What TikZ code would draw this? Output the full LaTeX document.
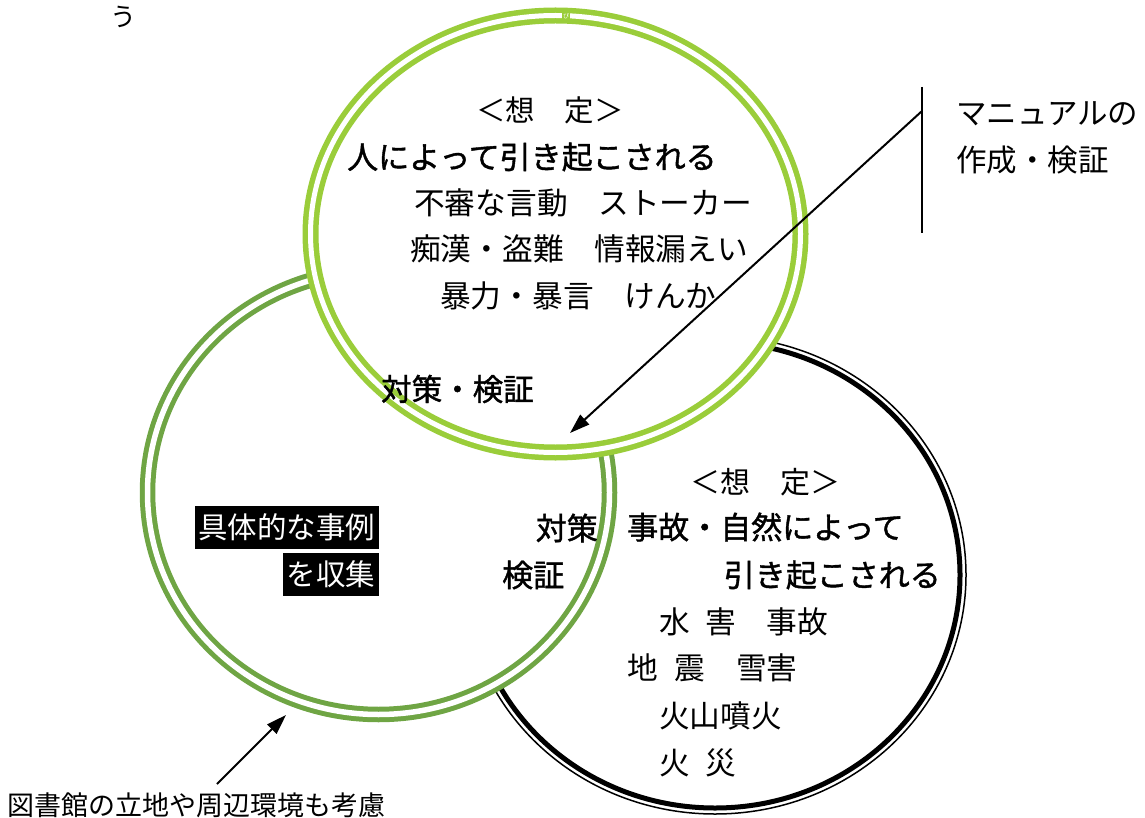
\documentclass[tikz,border=0pt]{standalone}
\usepackage{fontspec}
\newfontfamily\jp{Noto Sans CJK JP}
\newfontfamily\jpb[FakeBold=1.3]{Noto Sans CJK JP}
\usetikzlibrary{arrows.meta}
\definecolor{lgreen}{HTML}{9ACD3A}
\definecolor{dgreen}{HTML}{6FA544}
\begin{document}
\begin{tikzpicture}[x=1pt,y=-1pt,
  txt/.style={inner sep=0pt, anchor=west, font=\jp\fontsize{30.7}{34}\selectfont},
  btxt/.style={inner sep=0pt, anchor=west, font=\jpb\fontsize{31}{34}\selectfont},
  head/.style={inner sep=0pt, anchor=west, font=\jp\fontsize{29.5}{32}\selectfont},
  rimlight/.style={draw=lgreen, line width=5.5pt, double=white, double distance=5pt},
  rimdark/.style={draw=dgreen, line width=5pt, double=white, double distance=5.5pt},
  blkbox/.style={fill=black, text=white, inner xsep=3.5pt, inner ysep=0pt, minimum height=43pt, anchor=east, font=\jp\fontsize{29.5}{34}\selectfont},
  arr/.style={draw=black, line width=2pt, -{Triangle[length=20pt,width=13pt]}}
]
\useasboundingbox (0,0) rectangle (1145,818);

% black circle (bottom)
\fill[white] (715,575) ellipse [x radius=248, y radius=236];
\draw[black, line width=5pt] (715,575) ellipse [x radius=245, y radius=233];
\draw[black, line width=1.5pt] (715,575) ellipse [x radius=251, y radius=239];

% left green circle
\draw[rimdark, fill=white] (378.5,492.5) ellipse [x radius=231, y radius=222];

% top green ellipse
\draw[rimlight, fill=white] (555.5,234) ellipse [x radius=245, y radius=218.5];
\node[fill=lgreen, inner sep=1pt, text=white, font=\jp\fontsize{6}{6}\selectfont] (mark) at (566,16) {ぴ};

% top-left stray character
\node[inner sep=0pt, font=\jp\fontsize{26}{28}\selectfont] (u) at (123,17) {う};

% top ellipse texts
\node[head] (t1) at (476,110) {＜想　定＞};
\node[btxt] (t2) at (347,157) {人によって引き起こされる};
\node[txt] (t3) at (414,203) {不審な言動　ストーカー};
\node[txt] (t4) at (410,249) {痴漢・盗難　情報漏えい};
\node[txt] (t5) at (440,296) {暴力・暴言　けんか};
\node[btxt, font=\jpb\fontsize{30.5}{34}\selectfont] (t6) at (381,389) {対策・検証};

% left circle texts
\node[blkbox] (c1) at (379,527) {具体的な事例};
\node[blkbox] (c2) at (379,574) {を収集};
\node[btxt, anchor=east] (c3) at (598,528) {対策};
\node[btxt] (c4) at (502,575) {検証};

% bottom circle texts
\node[head, font=\jp\fontsize{30}{32}\selectfont] (b1) at (690,482) {＜想　定＞};
\node[btxt] (b2) at (627,527) {事故・自然によって};
\node[btxt, anchor=east] (b3) at (941,575) {引き起こされる};
\node[txt] (b4) at (659,622) {水\hspace{0.5em}害　事故};
\node[txt] (b5) at (627,668) {地\hspace{0.55em}震　雪害};
\node[txt] (b6) at (659,716) {火山噴火};
\node[txt] (b7) at (659,763) {火\hspace{0.5em}災};

% right side: manual
\coordinate (vtop) at (922,87);
\coordinate (vbot) at (922,233);
\coordinate (vmid) at (922,111);
\draw[line width=2.5pt] (vtop) -- (vbot);
\node[txt, font=\jp\fontsize{30.5}{34}\selectfont] (m1) at (956,114) {マニュアルの};
\node[txt, font=\jp\fontsize{30.5}{34}\selectfont] (m2) at (956,160) {作成・検証};
\coordinate (tip1) at (570,433);
\draw[arr] (vmid) -- (tip1);

% bottom-left note
\node[inner sep=0pt, anchor=west, font=\jp\fontsize{27}{30}\selectfont] (note) at (7,805) {図書館の立地や周辺環境も考慮};
\coordinate (tail2) at (217,784);
\coordinate (tip2) at (286,715);
\draw[arr] (tail2) -- (tip2);
\end{tikzpicture}
\end{document}
